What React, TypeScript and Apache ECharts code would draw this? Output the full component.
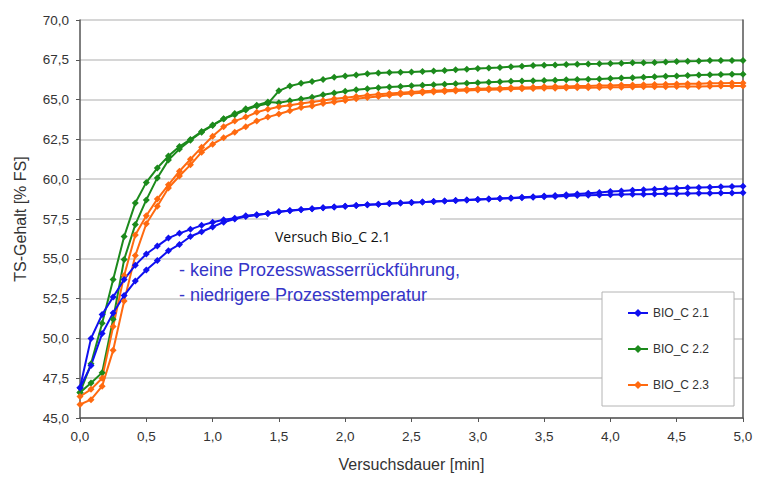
import React, { useEffect, useRef } from "react";
import * as echarts from "echarts";

const timeMin = [
  0, 0.083, 0.167, 0.25, 0.333, 0.417, 0.5, 0.583, 0.667, 0.75, 0.833, 0.917,
  1.0, 1.083, 1.167, 1.25, 1.333, 1.417, 1.5, 1.583, 1.667, 1.75, 1.833, 1.917,
  2.0, 2.083, 2.167, 2.25, 2.333, 2.417, 2.5, 2.583, 2.667, 2.75, 2.833, 2.917,
  3.0, 3.083, 3.167, 3.25, 3.333, 3.417, 3.5, 3.583, 3.667, 3.75, 3.833, 3.917,
  4.0, 4.083, 4.167, 4.25, 4.333, 4.417, 4.5, 4.583, 4.667, 4.75, 4.833, 4.917,
  5.0,
];

const bio21a = [
  46.9, 50.0, 51.5, 52.6, 53.7, 54.6, 55.3, 55.8, 56.3, 56.6, 56.85, 57.1,
  57.3, 57.45, 57.55, 57.7, 57.77, 57.85, 57.95, 58.03, 58.1, 58.15, 58.2, 58.25,
  58.3, 58.35, 58.4, 58.43, 58.47, 58.5, 58.53, 58.56, 58.6, 58.63, 58.66, 58.69,
  58.72, 58.75, 58.78, 58.82, 58.86, 58.9, 58.94, 58.98, 59.03, 59.07, 59.12, 59.17,
  59.22, 59.26, 59.3, 59.33, 59.37, 59.4, 59.43, 59.46, 59.48, 59.5, 59.52, 59.54,
  59.56,
];
const bio21b = [
  46.9, 48.3, 50.3, 51.6, 52.7, 53.6, 54.3, 54.9, 55.5, 55.9, 56.4, 56.7,
  57.0, 57.3, 57.5, 57.65, 57.75, 57.85, 57.95, 58.02, 58.08, 58.15, 58.2, 58.25,
  58.3, 58.35, 58.4, 58.43, 58.47, 58.5, 58.53, 58.56, 58.6, 58.63, 58.66, 58.69,
  58.72, 58.75, 58.78, 58.81, 58.84, 58.87, 58.9, 58.92, 58.95, 58.97, 58.99, 59.01,
  59.03, 59.04, 59.05, 59.06, 59.07, 59.08, 59.09, 59.1, 59.11, 59.12, 59.13, 59.14,
  59.15,
];
const bio22a = [
  46.6, 48.4, 50.95, 53.7, 56.4, 58.5, 59.8, 60.7, 61.45, 62.05, 62.5, 63.0,
  63.4, 63.8, 64.05, 64.35, 64.6, 64.75, 65.55, 65.85, 66.02, 66.13, 66.27, 66.4,
  66.48, 66.55, 66.62, 66.67, 66.7, 66.72, 66.74, 66.77, 66.8, 66.83, 66.87, 66.91,
  66.95, 66.98, 67.02, 67.06, 67.1, 67.14, 67.16, 67.18, 67.2, 67.22, 67.24, 67.25,
  67.27, 67.29, 67.31, 67.32, 67.33, 67.36, 67.39, 67.41, 67.42, 67.45, 67.46, 67.46,
  67.46,
];
const bio22b = [
  46.6, 47.2, 47.85, 51.2, 54.96, 57.15, 58.7, 60.08, 61.2, 61.9, 62.45, 62.95,
  63.38, 63.78, 64.12, 64.42, 64.65, 64.85, 64.8, 64.92, 65.04, 65.15, 65.3, 65.42,
  65.52, 65.62, 65.68, 65.74, 65.79, 65.83, 65.87, 65.9, 65.94, 65.97, 66.0, 66.03,
  66.06, 66.09, 66.12, 66.15, 66.17, 66.19, 66.2, 66.22, 66.24, 66.26, 66.28, 66.3,
  66.33, 66.35, 66.38, 66.41, 66.43, 66.46, 66.49, 66.52, 66.54, 66.56, 66.58, 66.6,
  66.6,
];
const bio23a = [
  46.35, 46.8, 47.5, 50.75, 53.95, 56.5, 57.7, 58.75, 59.65, 60.5, 61.25, 62.0,
  62.7, 63.3, 63.65, 63.9, 64.2, 64.4, 64.55, 64.65, 64.75, 64.85, 64.95, 65.05,
  65.12, 65.2, 65.27, 65.33, 65.38, 65.43, 65.48, 65.52, 65.56, 65.59, 65.62, 65.65,
  65.68, 65.7, 65.72, 65.74, 65.76, 65.78, 65.8, 65.82, 65.83, 65.85, 65.86, 65.88,
  65.89, 65.91, 65.92, 65.94, 65.95, 65.96, 65.98, 65.99, 66.0, 66.02, 66.03, 66.04,
  66.05,
];
const bio23b = [
  45.85, 46.15, 47.0, 49.25, 52.35, 55.2, 57.2, 58.3, 59.45, 60.2, 60.9, 61.7,
  62.2, 62.6, 62.95, 63.3, 63.65, 63.9, 64.1, 64.3, 64.5, 64.6, 64.75, 64.85,
  64.95, 65.05, 65.13, 65.2, 65.27, 65.33, 65.38, 65.43, 65.47, 65.51, 65.54, 65.57,
  65.6, 65.62, 65.64, 65.66, 65.68, 65.7, 65.71, 65.72, 65.73, 65.74, 65.75, 65.76,
  65.77, 65.78, 65.79, 65.8, 65.8, 65.81, 65.82, 65.83, 65.83, 65.84, 65.85, 65.85,
  65.86,
];

const seriesNames = ["BIO_C 2.1", "BIO_C 2.2", "BIO_C 2.3"];
const seriesColors = ["#1010f0", "#1c8a1c", "#ff6a10"];

const xTicks = { min: 0, max: 5, interval: 0.5 };
const yTicks = { min: 45, max: 70, interval: 2.5 };

const FONT = "Liberation Sans, Arial, sans-serif";

function pairs(vals: number[]) {
  return vals.map((v, i) => [timeMin[i], v]);
}

function fmt(v: number) {
  return v.toFixed(1).replace(".", ",");
}

export default function App() {
  const ref = useRef<HTMLDivElement>(null);
  useEffect(() => {
    if (!ref.current) return;
    const chart = echarts.init(ref.current, null, { renderer: "svg" });
    const mk = (name: string, color: string, vals: number[]) => ({
      name,
      type: "line",
      data: pairs(vals),
      symbol: "diamond",
      symbolSize: 7,
      lineStyle: { color, width: 2 },
      itemStyle: { color },
      z: 3,
    });
    chart.setOption({
      animation: false,
      backgroundColor: "#ffffff",
      grid: { left: 80, right: 15, top: 20, bottom: 58 },
      legend: {
        orient: "vertical",
        left: 602,
        top: 292,
        data: seriesNames,
        padding: [15, 25, 15, 25],
        itemGap: 24,
        itemWidth: 20,
        itemHeight: 10,
        borderColor: "#b4b4b4",
        borderWidth: 1,
        backgroundColor: "#ffffff",
        textStyle: { fontFamily: FONT, fontSize: 12, color: "#333333" },
      },
      xAxis: {
        type: "value",
        min: xTicks.min,
        max: xTicks.max,
        interval: xTicks.interval,
        name: "Versuchsdauer [min]",
        nameLocation: "middle",
        nameGap: 38,
        nameTextStyle: { fontFamily: FONT, fontSize: 16, color: "#333333" },
        axisLine: { show: true, lineStyle: { color: "#555555", width: 1.5 } },
        axisTick: { show: true, inside: false, length: 4, lineStyle: { color: "#555555" } },
        axisLabel: { formatter: fmt, fontFamily: FONT, fontSize: 13.5, color: "#333333", margin: 11 },
        splitLine: { show: false },
      },
      yAxis: [
        {
          type: "value",
          min: yTicks.min,
          max: yTicks.max,
          interval: yTicks.interval,
          name: "TS-Gehalt [% FS]",
          nameLocation: "middle",
          nameGap: 52,
          nameTextStyle: { fontFamily: FONT, fontSize: 16, color: "#333333" },
          axisLine: { show: true, lineStyle: { color: "#555555", width: 1.5 } },
          axisTick: { show: true, inside: false, length: 4, lineStyle: { color: "#555555" } },
          axisLabel: { formatter: fmt, fontFamily: FONT, fontSize: 13.5, color: "#333333", margin: 11 },
          splitLine: { show: true, lineStyle: { color: "#c8c8c8", width: 1.5 } },
        },
        {
          type: "value",
          position: "right",
          min: yTicks.min,
          max: yTicks.max,
          interval: yTicks.interval,
          axisLine: { show: true, lineStyle: { color: "#555555", width: 1.5 } },
          axisTick: { show: false },
          axisLabel: { show: false },
          splitLine: { show: false },
        },
      ],
      graphic: [
        {
          type: "rect",
          z: 1,
          shape: { x: 268, y: 213, width: 172, height: 38 },
          style: { fill: "#ffffff" },
        },
        {
          type: "text",
          z: 5,
          left: 275,
          top: 229,
          style: {
            text: "Versuch Bio_C 2.1",
            fontFamily: "Open Sans, sans-serif",
            fontSize: 14,
            fill: "#111111",
          },
        },
        {
          type: "text",
          z: 5,
          left: 179,
          top: 261,
          style: {
            text: "- keine Prozesswasserrückführung,",
            fontFamily: FONT,
            fontSize: 18,
            fill: "#3535c8",
          },
        },
        {
          type: "text",
          z: 5,
          left: 179,
          top: 286,
          style: {
            text: "- niedrigere Prozesstemperatur",
            fontFamily: FONT,
            fontSize: 18,
            fill: "#3535c8",
          },
        },
      ],
      series: [
        mk(seriesNames[1], seriesColors[1], bio22a),
        mk(seriesNames[1], seriesColors[1], bio22b),
        mk(seriesNames[2], seriesColors[2], bio23a),
        mk(seriesNames[2], seriesColors[2], bio23b),
        mk(seriesNames[0], seriesColors[0], bio21a),
        mk(seriesNames[0], seriesColors[0], bio21b),
      ],
    });
    return () => chart.dispose();
  }, []);
  return <div ref={ref} style={{ width: 758, height: 477, position: "absolute", left: 0, top: 0 }} />;
}
